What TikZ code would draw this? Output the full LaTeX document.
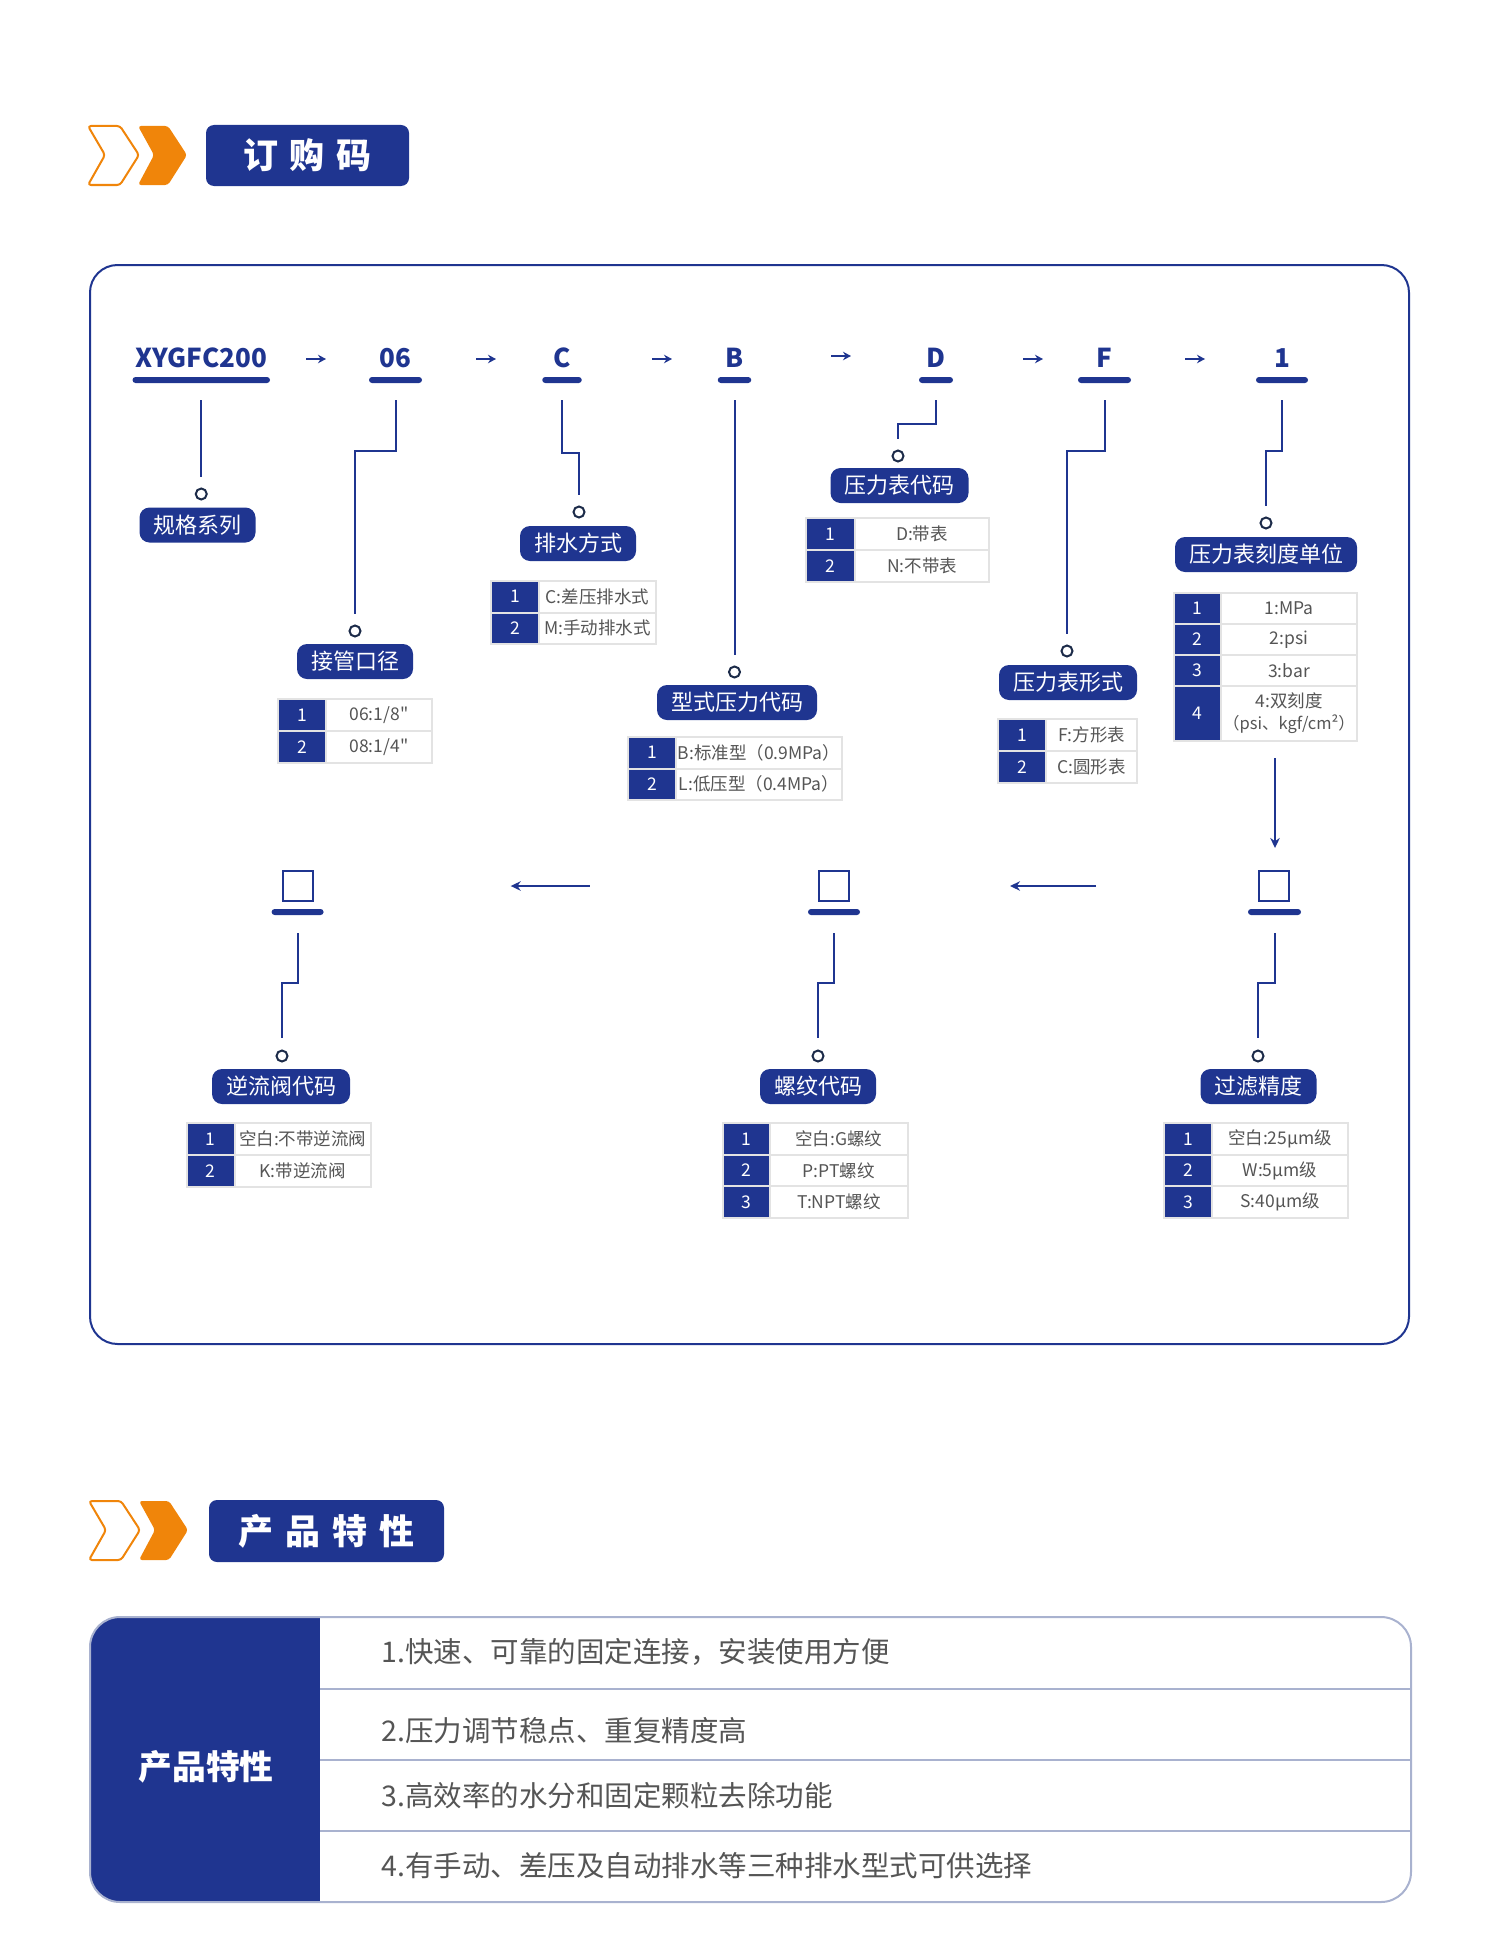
\documentclass[tikz,border=0pt]{standalone}
\usepackage{fontspec}
\newfontfamily\cjk{Noto Sans CJK SC}
\usetikzlibrary{arrows.meta,calc}
\definecolor{navy}{HTML}{1F3590}
\definecolor{orng}{HTML}{F0850A}
\definecolor{dotc}{HTML}{1C2B49}
\definecolor{tline}{HTML}{E3E3E3}
\definecolor{ttext}{HTML}{555555}
\definecolor{bline}{HTML}{A9B2CF}
\newcommand\fsz[1]{\fontsize{#1}{#1}\selectfont}
\newcommand\trow[8]{%
  \node[numc, minimum width=#4*0.4pt, minimum height=#6*0.4pt] (#1n) at (#2,#3) {#7};
  \node[txtc, minimum width=#5*0.4pt, minimum height=#6*0.4pt] (#1t) at (#1n.north east) {#8};}
\begin{document}
\begin{tikzpicture}[x=0.4pt,y=-0.4pt,
  code/.style={text=navy, font=\cjk\fsz{10.4}\bfseries, anchor=base, inner sep=0},
  bar/.style={fill=navy, rounded corners=1.2pt, minimum height=2.4pt, inner sep=0, outer sep=0},
  conn/.style={draw=navy, line width=0.8pt},
  dot/.style={circle, draw=dotc, line width=0.8pt, fill=white, minimum size=4.4pt, inner sep=0},
  lab/.style={fill=navy, text=white, rounded corners=4pt, minimum height=14pt, inner xsep=5.6pt, inner ysep=0, font=\cjk\fsz{8.8}},
  numc/.style={fill=navy, draw=tline, line width=0.8pt, text=white, font=\cjk\fsz{7}, inner sep=0, outer sep=0, anchor=north west},
  txtc/.style={fill=white, draw=tline, line width=0.8pt, text=ttext, font=\cjk\fontsize{7}{8.8}\selectfont, inner sep=0, outer sep=0, anchor=north west, align=center},
  tarr/.style={draw=navy, line width=0.7pt, -{Stealth[length=3.2pt,width=3.4pt]}},
  larr/.style={draw=navy, line width=0.8pt, -{Stealth[length=4pt,width=3.8pt]}},
  sq/.style={draw=navy, line width=0.8pt, fill=white, minimum size=12pt, inner sep=0},
  hdr/.style={fill=navy, text=white, rounded corners=3.2pt, font=\cjk\fsz{14}\bfseries, inner sep=0},
  feat/.style={anchor=west, text=ttext, font=\cjk\fsz{11.4}, inner sep=0},
]
\useasboundingbox (0,0) rectangle (1500,1959);

% ---------- header 1 ----------
\draw[orng, line width=0.8pt, fill=white, rounded corners=1.2pt] (88,126) -- (120,126) -- (139,155) -- (120,185) -- (88,185) -- (105,155) -- cycle;
\fill[orng, rounded corners=1.2pt] (138,126) -- (168,126) -- (187,155) -- (168,185) -- (138,185) -- (154,155) -- cycle;
\node[hdr, minimum width=81.2pt, minimum height=24.4pt] (h1) at (307.5,155.5) {订\hspace{4.8pt}购\hspace{4.8pt}码};

% ---------- frame ----------
\draw[navy, line width=0.8pt, rounded corners=11pt] (90,265) rectangle (1409,1344);

% ---------- codes ----------
\node[code] (c1) at (201.25,367) {XYGFC200};
\node[code] (c2) at (395.5,367) {06};
\node[code] (c3) at (562,367) {C};
\node[code] (c4) at (734.5,367) {B};
\node[code] (c5) at (936,367) {D};
\node[code] (c6) at (1104.5,367) {F};
\node[code] (c7) at (1282,367) {1};

\node[bar, minimum width=55pt] (b1) at (201.25,380) {};
\node[bar, minimum width=21.2pt] (b2) at (395.5,380) {};
\node[bar, minimum width=15.8pt] (b3) at (562,380) {};
\node[bar, minimum width=13.4pt] (b4) at (734.5,380) {};
\node[bar, minimum width=13.6pt] (b5) at (936,380) {};
\node[bar, minimum width=21.2pt] (b6) at (1104.5,380) {};
\node[bar, minimum width=20.8pt] (b7) at (1282,380) {};

% small arrows between codes
\coordinate (a1s) at (306,359); \coordinate (a1e) at (326,359);
\coordinate (a2s) at (476,359); \coordinate (a2e) at (496,359);
\coordinate (a3s) at (652,359); \coordinate (a3e) at (672,359);
\coordinate (a4s) at (831,356); \coordinate (a4e) at (851,356);
\coordinate (a5s) at (1023,359); \coordinate (a5e) at (1043,359);
\coordinate (a6s) at (1185,359); \coordinate (a6e) at (1205,359);
\foreach \i in {1,...,6} {\draw[tarr] (a\i s) -- (a\i e);}

% ---------- circles ----------
\node[dot] (o1) at (201.25,494) {};
\node[dot] (o2) at (355,631) {};
\node[dot] (o3) at (579,512) {};
\node[dot] (o4) at (734.5,672) {};
\node[dot] (o5) at (898,456) {};
\node[dot] (o6) at (1067,651) {};
\node[dot] (o7) at (1266,523) {};

% ---------- connectors (top) ----------
\draw[conn] ([yshift=-6.8pt]b1.south) -- ([yshift=4.2pt]o1.north);
\draw[conn] ([yshift=-6.8pt]b2.south) -- ++(0,51) -| ([yshift=4.2pt]o2.north);
\draw[conn] ([yshift=-6.8pt]b3.south) -- ++(0,53) -| ([yshift=4.2pt]o3.north);
\draw[conn] ([yshift=-6.8pt]b4.south) -- ([yshift=4.2pt]o4.north);
\draw[conn] ([yshift=-6.8pt]b5.south) -- ++(0,24) -| ([yshift=4.2pt]o5.north);
\draw[conn] ([yshift=-6.8pt]b6.south) -- ++(0,51) -| ([yshift=4.2pt]o6.north);
\draw[conn] ([yshift=-6.8pt]b7.south) -- ++(0,51) -| ([yshift=4.2pt]o7.north);

% ---------- labels ----------
\node[lab] (l1) at (197.5,525) {规格系列};
\node[lab] (l2) at (355,661.5) {接管口径};
\node[lab] (l3) at (578,543.5) {排水方式};
\node[lab] (l4) at (737,702.5) {型式压力代码};
\node[lab] (l5) at (899.5,485.5) {压力表代码};
\node[lab] (l6) at (1068,682.5) {压力表形式};
\node[lab] (l7) at (1266,554.5) {压力表刻度单位};

% ---------- tables (top) ----------
\trow{t2a}{278}{699}{48}{106}{32}{1}{06:1/8"}
\trow{t2b}{278}{731}{48}{106}{32}{2}{08:1/4"}
\trow{t3a}{491}{581}{48}{117}{31.5}{1}{C:差压排水式}
\trow{t3b}{491}{612.5}{48}{117}{31.5}{2}{M:手动排水式}
\trow{t4a}{628}{737}{48}{166}{31.5}{1}{B:标准型（0.9MPa）}
\trow{t4b}{628}{768.5}{48}{166}{31.5}{2}{L:低压型（0.4MPa）}
\trow{t5a}{806}{518}{49}{134}{32}{1}{D:带表}
\trow{t5b}{806}{550}{49}{134}{32}{2}{N:不带表}
\trow{t6a}{998}{719}{48}{91}{32}{1}{F:方形表}
\trow{t6b}{998}{751}{48}{91}{32}{2}{C:圆形表}
\trow{t7a}{1174}{593}{47}{136}{31}{1}{1:MPa}
\trow{t7b}{1174}{624}{47}{136}{31}{2}{2:psi}
\trow{t7c}{1174}{655}{47}{136}{31}{3}{3:bar}
\trow{t7d}{1174}{686}{47}{136}{55}{4}{4:双刻度\\{\fontsize{6.6}{8.8}\selectfont（psi、kgf/cm²）}}

% ---------- down arrow ----------
\coordinate (d1) at (1275,758); \coordinate (d2) at (1275,848);
\draw[larr] (d1) -- (d2);

% ---------- bottom row ----------
\node[sq] (s1) at (298,886) {};
\node[sq] (s2) at (834,886) {};
\node[sq] (s3) at (1274,886) {};
\node[bar, minimum width=20.8pt] (bb1) at (297.6,912) {};
\node[bar, minimum width=20.8pt] (bb2) at (834,912) {};
\node[bar, minimum width=21.2pt] (bb3) at (1274.5,912) {};

\coordinate (la1s) at (589.6,886); \coordinate (la1e) at (510.7,886);
\coordinate (la2s) at (1096,886); \coordinate (la2e) at (1010,886);
\draw[larr] (la1s) -- (la1e);
\draw[larr] (la2s) -- (la2e);

\node[dot] (o8) at (282,1056) {};
\node[dot] (o9) at (818,1056) {};
\node[dot] (o10) at (1258,1056) {};
\draw[conn] ([yshift=-7.2pt]bb1.south) -- ++(0,50) -| ([yshift=4.6pt]o8.north);
\draw[conn] ([yshift=-7.2pt]bb2.south) -- ++(0,50) -| ([yshift=4.6pt]o9.north);
\draw[conn] ([yshift=-7.2pt]bb3.south) -- ++(0,50) -| ([yshift=4.6pt]o10.north);

\node[lab] (l8) at (281,1086.5) {逆流阀代码};
\node[lab] (l9) at (818,1086.5) {螺纹代码};
\node[lab] (l10) at (1258.5,1086.5) {过滤精度};

\trow{t8a}{187}{1123}{47.5}{136.5}{32}{1}{空白:不带逆流阀}
\trow{t8b}{187}{1155}{47.5}{136.5}{32}{2}{K:带逆流阀}
\trow{t9a}{722.6}{1123}{47.5}{137.5}{31.7}{1}{空白:G螺纹}
\trow{t9b}{722.6}{1154.7}{47.5}{137.5}{31.7}{2}{P:PT螺纹}
\trow{t9c}{722.6}{1186.4}{47.5}{137.5}{31.7}{3}{T:NPT螺纹}
\trow{t10a}{1164}{1123}{48}{136}{31.7}{1}{空白:25μm级}
\trow{t10b}{1164}{1154.7}{48}{136}{31.7}{2}{W:5μm级}
\trow{t10c}{1164}{1186.4}{48}{136}{31.7}{3}{S:40μm级}

% ---------- header 2 ----------
\draw[orng, line width=0.8pt, fill=white, rounded corners=1.2pt] (89,1501) -- (121,1501) -- (140,1530) -- (121,1560) -- (89,1560) -- (106,1530) -- cycle;
\fill[orng, rounded corners=1.2pt] (139,1501) -- (169,1501) -- (188,1530) -- (169,1560) -- (139,1560) -- (155,1530) -- cycle;
\node[hdr, minimum width=94pt, minimum height=24.8pt] (h2) at (326.5,1531) {产\hspace{4.8pt}品\hspace{4.8pt}特\hspace{4.8pt}性};

% ---------- features table ----------
\begin{scope}
  \clip[rounded corners=12pt] (90,1617) rectangle (1411,1902);
  \fill[navy] (90,1617) rectangle (320,1902);
\end{scope}
\draw[bline, line width=0.8pt] (320,1689) -- (1411,1689);
\draw[bline, line width=0.8pt] (320,1760) -- (1411,1760);
\draw[bline, line width=0.8pt] (320,1831) -- (1411,1831);
\draw[bline, line width=0.8pt, rounded corners=12pt] (90,1617) rectangle (1411,1902);
\node[text=white, font=\cjk\fsz{13.5}\bfseries] (pf) at (206,1767) {产品特性};
\node[feat] (f1) at (381,1652) {1.快速、可靠的固定连接，安装使用方便};
\node[feat] (f2) at (381,1731) {2.压力调节稳点、重复精度高};
\node[feat] (f3) at (381,1796) {3.高效率的水分和固定颗粒去除功能};
\node[feat] (f4) at (381,1866) {4.有手动、差压及自动排水等三种排水型式可供选择};
\end{tikzpicture}
\end{document}
